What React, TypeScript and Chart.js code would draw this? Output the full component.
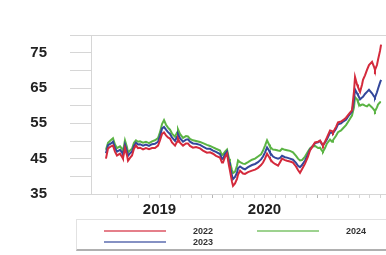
import React, { useEffect, useRef } from 'react';
import { Chart, registerables } from 'chart.js';

Chart.register(...registerables);

// decimal-year dates of the sampled observations
const dates = [
  2018.990, 2019.010, 2019.038, 2019.057, 2019.076, 2019.095, 2019.124, 2019.143, 2019.152, 2019.171,
  2019.190, 2019.200, 2019.219, 2019.238, 2019.257, 2019.276, 2019.295, 2019.314, 2019.343, 2019.371,
  2019.400, 2019.429, 2019.457, 2019.486, 2019.505, 2019.524, 2019.543, 2019.562, 2019.581, 2019.600,
  2019.619, 2019.648, 2019.667, 2019.676, 2019.695, 2019.724, 2019.752, 2019.771, 2019.790, 2019.819,
  2019.848, 2019.886, 2019.914, 2019.952, 2019.981, 2020.010, 2020.038, 2020.076, 2020.095, 2020.105,
  2020.124, 2020.143, 2020.162, 2020.171, 2020.190, 2020.200, 2020.219, 2020.238, 2020.248, 2020.267,
  2020.295, 2020.314, 2020.343, 2020.381, 2020.410, 2020.438, 2020.467, 2020.486, 2020.505, 2020.524,
  2020.543, 2020.552, 2020.571, 2020.581, 2020.600, 2020.629, 2020.648, 2020.667, 2020.695, 2020.714,
  2020.743, 2020.771, 2020.800, 2020.819, 2020.838, 2020.857, 2020.886, 2020.914, 2020.933, 2020.952,
  2020.981, 2021.010, 2021.029, 2021.048, 2021.057, 2021.076, 2021.095, 2021.124, 2021.143, 2021.152,
  2021.181, 2021.200, 2021.229, 2021.248, 2021.276, 2021.295, 2021.314, 2021.333, 2021.352, 2021.362,
  2021.381, 2021.390, 2021.410, 2021.429, 2021.438, 2021.457, 2021.476, 2021.495, 2021.524, 2021.543,
  2021.552, 2021.571, 2021.581, 2021.600, 2021.610,
];

const series2022 = [
  45.0, 47.9, 48.5, 48.7, 47.0, 45.9, 46.4, 45.5, 45.0, 48.0,
  46.0, 44.4, 45.2, 45.9, 47.8, 48.7, 48.0, 48.1, 47.6, 48.0,
  47.7, 48.0, 48.0, 48.7, 50.2, 52.0, 52.4, 51.6, 51.0, 50.7,
  49.6, 48.7, 49.8, 50.7, 49.5, 48.7, 49.3, 49.3, 48.6, 48.1,
  48.3, 47.9, 47.3, 46.7, 46.8, 46.4, 45.8, 45.3, 43.9, 43.9,
  45.5, 46.4, 43.0, 41.6, 38.5, 37.3, 38.0, 39.3, 40.5, 41.6,
  40.8, 40.7, 41.2, 41.6, 41.9, 42.4, 43.2, 43.9, 45.0, 46.4,
  45.5, 45.0, 44.2, 43.9, 43.5, 43.0, 44.0, 45.0, 44.6, 44.4,
  44.2, 43.9, 42.8, 41.8, 41.0, 42.0, 43.6, 45.6, 47.3, 48.2,
  49.6, 49.8, 50.1, 49.2, 48.7, 49.8, 51.0, 53.0, 52.8, 52.4,
  54.0, 55.3, 55.5, 55.9, 56.6, 57.3, 58.0, 58.7, 64.0, 68.1,
  66.0, 65.3, 63.9, 66.0, 67.3, 68.6, 70.1, 71.5, 72.4, 71.0,
  70.1, 71.5, 73.0, 75.5, 77.3,
];

const series2023 = [
  46.5, 48.8, 49.3, 49.8, 48.0, 47.0, 47.5, 46.8, 46.0, 49.0,
  47.2, 45.8, 46.5, 47.0, 48.6, 49.5, 49.0, 49.1, 48.7, 49.0,
  48.6, 49.1, 49.2, 49.8, 51.5, 53.5, 54.0, 53.2, 52.5, 52.0,
  51.0, 50.0, 51.2, 52.0, 50.8, 49.8, 50.4, 50.5, 49.8, 49.3,
  49.2, 48.9, 48.4, 47.8, 47.8, 47.3, 46.9, 46.3, 44.9, 45.0,
  46.3, 47.0, 44.0, 42.8, 40.2, 39.2, 39.8, 41.0, 42.3, 42.8,
  42.2, 42.0, 42.6, 43.2, 43.5, 44.0, 44.8, 45.6, 46.8, 48.2,
  47.3, 46.7, 46.0, 45.6, 45.3, 45.0, 45.2, 45.8, 45.4, 45.3,
  45.0, 44.7, 43.8, 43.0, 42.6, 43.2, 44.5, 46.2, 47.6, 48.3,
  49.4, 49.6, 50.0, 49.0, 48.8, 49.6, 50.5, 52.4, 52.3, 52.2,
  53.5, 54.7, 55.0, 55.5, 56.0, 56.9, 57.6, 58.3, 61.5, 64.6,
  63.5, 63.0, 61.8, 62.3, 62.5, 63.3, 63.9, 64.5, 63.5, 62.6,
  62.3, 63.8, 64.8, 66.5, 67.3,
];

const series2024 = [
  47.5, 49.5, 50.3, 50.8, 49.0, 48.0, 48.5, 47.8, 47.0, 50.2,
  48.3, 46.8, 47.3, 47.8, 49.5, 50.2, 49.8, 49.9, 49.5, 49.8,
  49.4, 49.9, 50.2, 50.8, 52.5, 54.8, 55.9, 54.6, 53.8, 53.2,
  52.1, 51.2, 52.4, 53.3, 52.0, 50.9, 51.4, 51.3, 50.6, 50.2,
  50.0, 49.7, 49.4, 48.9, 48.6, 48.2, 47.8, 47.3, 46.0, 46.2,
  47.0, 47.6, 45.0, 44.0, 41.8, 40.9, 41.3, 43.0, 44.5, 44.0,
  43.6, 43.5, 44.0, 44.7, 45.0, 45.6, 46.2, 47.3, 48.7, 50.2,
  49.0, 48.4, 47.8, 47.6, 47.5, 47.3, 47.2, 47.8, 47.5, 47.4,
  47.2, 46.8, 45.8, 45.0, 44.5, 44.6, 45.6, 47.0, 47.9, 48.4,
  48.6, 48.0, 48.1, 47.2, 47.0, 48.0, 49.3, 50.4, 49.8, 50.2,
  51.5, 52.5, 53.0, 53.6, 54.5, 55.4, 56.3, 57.2, 59.5, 62.4,
  61.8, 61.0, 60.0, 60.3, 60.3, 60.0, 59.8, 60.3, 59.5, 58.8,
  58.4, 59.5, 60.3, 61.0, 61.0,
];

const seriesNames = ['2022', '2023', '2024'];
const seriesValues = [series2022, series2023, series2024];
const seriesColors = ['#d42a3c', '#33479b', '#5bb444'];

const yTickValues = [35, 40, 45, 50, 55, 60, 65, 70, 75, 80];
const yLabelValues = [35, 45, 55, 65, 75];
const xLabelValues = [2019.5, 2020.5];
const xLabelTexts = ['2019', '2020'];
const xMajorValues = [2020, 2021];
const xMinorTenths = [
  20191, 20192, 20193, 20194, 20195, 20196, 20197, 20198, 20199, 20200,
  20201, 20202, 20203, 20204, 20205, 20206, 20207, 20208, 20209, 20210,
  20211, 20212, 20213, 20214, 20215, 20216,
];
const xMin = 2018.8476;
const xMax = 2021.657;

const FONT = '"Liberation Sans", Arial, sans-serif';
const GRID = '#d6d6d6';

export default function App() {
  const ref = useRef<HTMLCanvasElement | null>(null);

  useEffect(() => {
    if (!ref.current) return;
    const chart = new Chart(ref.current, {
      type: 'line',
      data: {
        datasets: seriesNames.map((name, i) => ({
          label: name,
          data: dates.map((d, j) => ({ x: d, y: seriesValues[i][j] })),
          borderColor: seriesColors[i],
          backgroundColor: seriesColors[i],
          borderWidth: 2,
          pointRadius: 0,
          tension: 0,
          fill: false,
        })),
      },
      options: {
        animation: false,
        responsive: false,
        maintainAspectRatio: false,
        layout: { padding: { top: 35, left: 0, right: 0, bottom: 0 } },
        plugins: { legend: { display: false }, tooltip: { enabled: false } },
        scales: {
          x: {
            type: 'linear',
            min: xMin,
            max: xMax,
            afterBuildTicks: (s: any) => {
              s.ticks = xMinorTenths.map((t) => ({ value: t / 10 }));
            },
            afterFit: (s: any) => {
              s.height = 61;
            },
            ticks: {
              autoSkip: false,
              maxRotation: 0,
              minRotation: 0,
              padding: 3,
              color: '#222',
              font: { family: FONT, size: 15, weight: 'bold' },
              callback: (v: any) => {
                const idx = xLabelValues.findIndex((x) => Math.abs(x - v) < 1e-6);
                return idx >= 0 ? xLabelTexts[idx] : '';
              },
            },
            grid: {
              drawOnChartArea: false,
              tickLength: 4,
              color: GRID,
              tickColor: (ctx: any) =>
                ctx.tick && xMajorValues.some((m) => Math.abs(m - ctx.tick.value) < 1e-6) ? '#b5b5b5' : GRID,
            },
            border: { color: GRID },
          },
          y: {
            type: 'linear',
            min: 35,
            max: 80,
            afterBuildTicks: (s: any) => {
              s.ticks = yTickValues.map((v) => ({ value: v }));
            },
            afterFit: (s: any) => {
              s.width = 91;
            },
            ticks: {
              autoSkip: false,
              padding: 23,
              color: '#222',
              font: { family: FONT, size: 15, weight: 'bold' },
              callback: (v: any) => (yLabelValues.includes(Number(v)) ? String(v) : ''),
            },
            grid: {
              tickLength: 21,
              color: (ctx: any) => (ctx.tick && ctx.tick.value === 80 ? GRID : 'rgba(255,255,255,0)'),
              tickColor: GRID,
            },
            border: { color: GRID },
          },
        },
      },
    });
    return () => chart.destroy();
  }, []);

  const legendText: React.CSSProperties = {
    position: 'absolute',
    fontFamily: FONT,
    fontSize: 9,
    fontWeight: 'bold',
    color: '#333',
    lineHeight: '10px',
  };
  const legendLine = (color: string): React.CSSProperties => ({
    position: 'absolute',
    width: 62,
    height: 2,
    background: color,
    opacity: 0.6,
  });

  return (
    <div
      style={{
        position: 'absolute',
        left: 0,
        top: 0,
        width: 386,
        height: 255,
        overflow: 'hidden',
        background: '#fff',
        filter: 'blur(0.5px)',
      }}
    >
      <canvas ref={ref} width={386} height={255} style={{ display: 'block', width: 386, height: 255 }} />
      <div
        style={{
          position: 'absolute',
          left: 76,
          top: 219,
          width: 330,
          height: 32,
          borderTop: '1px solid #e2e2e2',
          borderLeft: '1px solid #e2e2e2',
          borderBottom: '2px solid #b0b0b0',
          boxSizing: 'border-box',
        }}
      >
        <div style={{ ...legendLine(seriesColors[0]), left: 27, top: 10 }} />
        <div style={{ ...legendText, left: 116, top: 6 }}>{seriesNames[0]}</div>
        <div style={{ ...legendLine(seriesColors[1]), left: 27, top: 21 }} />
        <div style={{ ...legendText, left: 116, top: 17 }}>{seriesNames[1]}</div>
        <div style={{ ...legendLine(seriesColors[2]), left: 180, top: 10 }} />
        <div style={{ ...legendText, left: 269, top: 6 }}>{seriesNames[2]}</div>
      </div>
    </div>
  );
}
